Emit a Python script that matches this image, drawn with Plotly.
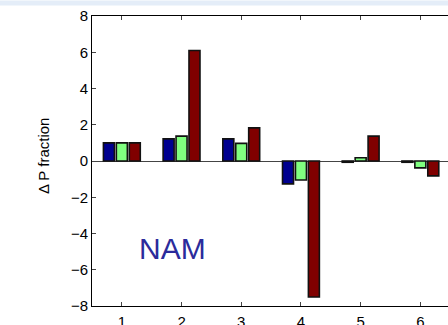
import plotly.graph_objects as go

groups = [1, 2, 3, 4, 5, 6]
blue_vals = [1.0, 1.22, 1.22, -1.26, -0.07, -0.07]
green_vals = [1.0, 1.37, 0.97, -1.05, 0.18, -0.38]
red_vals = [1.0, 6.1, 1.83, -7.5, 1.37, -0.82]
y_ticks = [-8, -6, -4, -2, 0, 2, 4, 6, 8]

W, H = 448, 325
L, R, T, B = 92, 0, 15.5, 18.5
ph = H - T - B
pw = W - L - R

fig = go.Figure()
for vals, col in [(blue_vals, "#00008F"), (green_vals, "#80FF80"), (red_vals, "#800000")]:
    fig.add_trace(go.Bar(x=groups, y=vals, marker=dict(color=col, line=dict(color="#111111", width=1.6)),
                         showlegend=False))

fig.update_layout(
    width=W, height=H,
    margin=dict(l=L, r=R, t=T, b=B, pad=0, autoexpand=False),
    paper_bgcolor="white", plot_bgcolor="white",
    barmode="group", bargap=0.35, bargroupgap=0.15,
    font=dict(family="Liberation Sans, Arial, sans-serif", size=15, color="black"),
    xaxis=dict(range=[0.5, 0.5 + (W - L) / 59.7], tickvals=groups, ticks="inside", ticklen=4,
               showline=True, linecolor="black", linewidth=1, mirror="ticks", showgrid=False,
               zeroline=False, tickfont=dict(size=15), ticklabelstandoff=2, automargin=False),
    yaxis=dict(range=[-8, 8], tickvals=y_ticks, ticks="inside", ticklen=4, showline=True,
               linecolor="black", linewidth=1, showgrid=False, zeroline=True, zerolinecolor="#444444",
               zerolinewidth=1, tickfont=dict(size=15), automargin=False),
    annotations=[
        dict(text="NAM", x=0.5 + (172 - L) / 59.7, y=-4.85, xref="x", yref="y",
             showarrow=False, font=dict(size=30, color="#2B2B9B",
                                        family="Liberation Sans, Arial, sans-serif")),
        dict(text="Δ P fraction", textangle=-90, xref="paper", yref="paper",
             x=(43 - L) / pw, y=(H - B - 156) / ph, xanchor="center", yanchor="middle",
             showarrow=False, font=dict(size=15)),
    ],
    shapes=[dict(type="rect", xref="paper", yref="paper", x0=-L / pw, x1=1,
                 y0=1 + (T - 5) / ph, y1=1 + T / ph, fillcolor="#E4EDF8", line=dict(width=0),
                 layer="below")],
)

fig.write_html("out.html")
